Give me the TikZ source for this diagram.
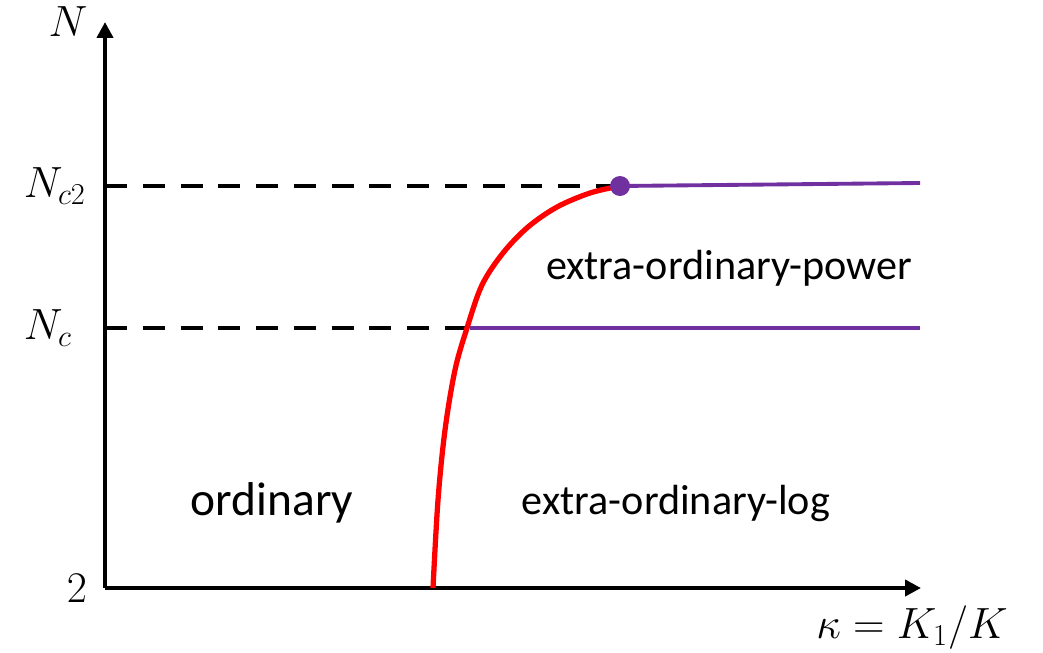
\documentclass[tikz,border=0pt]{standalone}
\usepackage{fontspec}
\newfontfamily\regionfont{Carlito}
\usepackage{xcolor}
\usetikzlibrary{arrows.meta, positioning, calc}
\definecolor{phasepurple}{RGB}{112,48,160}

\begin{document}
\begin{tikzpicture}[
  x=0.02cm, y={(0cm,-0.02cm)},
  axis/.style={line width=2.3pt, -{Triangle[length=3.2mm, width=3.2mm]}},
  guide/.style={line width=2.2pt, dash pattern=on 12.5pt off 9pt},
  boundary/.style={line width=3pt, red},
  plateau/.style={line width=2.2pt, phasepurple},
  axlab/.style={font=\fontsize{24}{28}\selectfont},
  region/.style={font=\regionfont\fontsize{24}{28}\selectfont}
]
\useasboundingbox (0,0) rectangle (1043,652);
% axes
\coordinate (origin) at (105,588);
\coordinate (ytip) at (105,22);
\coordinate (xtip) at (921,588);
\draw[axis] (origin) -- (ytip);
\draw[axis] (origin) -- (xtip);
\node[axlab] (ylab) at (68,22) {$N$};
\node[axlab] (xlab) at (912,628) {$\kappa = K_1/K$};
\node[axlab, anchor=east] (nctwo) at (92,186) {$N_{c2}$};
\node[axlab, anchor=east] (nc) at (78,328) {$N_c$};
\node[axlab] (ntwo) at (77,588) {$2$};
% levels
\coordinate (yctwo) at (105,186);
\coordinate (yc) at (105,328);
\coordinate (crit) at (620,186);
\coordinate (cross) at (470,328);
\coordinate (rtwo) at (920,183);
\coordinate (rone) at (920,328);
\draw[guide] (yctwo) -- (crit);
\draw[guide] (yc) -- (cross);
\draw[plateau] (crit) -- (rtwo);
\draw[plateau] (cross) -- (rone);
% phase boundary
\draw[boundary] plot[smooth, tension=0.55] coordinates {
  (433,588) (438,500) (445,430) (455,370) (467,328) (482,285)
  (503,253) (528,227) (557,207) (590,193) (620,186)};
\fill[phasepurple] (crit) circle (10);
% regions
\node[region, font=\regionfont\fontsize{27}{31}\selectfont] (ordinary) at (272,503) {ordinary};
\node[region] (eopower) at (729,268) {extra-ordinary-power};
\node[region] (eolog) at (676,503) {extra-ordinary-log};
\end{tikzpicture}
\end{document}
